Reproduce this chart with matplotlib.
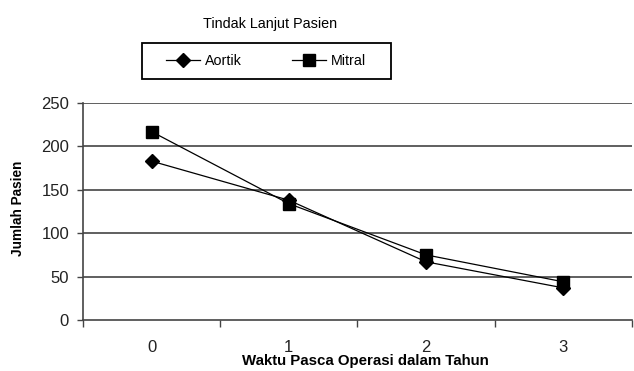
import numpy as np
import matplotlib
matplotlib.use("Agg")
import matplotlib.pyplot as plt
from matplotlib.patches import Rectangle

plt.rcParams['font.family'] = ['Liberation Sans', 'DejaVu Sans']

# follow-up counts per year after surgery
tahun = ['0', '1', '2', '3']
aortik = [183, 138, 67, 37]
mitral = [217, 134, 75, 44]
yticks = [0, 50, 100, 150, 200, 250]

W, H = 634, 371
fig = plt.figure(figsize=(W/100, H/100), dpi=100)
ax = fig.add_axes([83/W, 1 - 320/H, (632-83)/W, (320-103)/H])

x = np.arange(len(tahun)) + 0.5
ax.plot(x, aortik, color='black', lw=0.9, marker='D', ms=7.5, mfc='black', mec='black', label='Aortik')
ax.plot(x, mitral, color='black', lw=0.9, marker='s', ms=8.5, mfc='black', mec='black', label='Mitral')

ax.set_xlim(0, len(tahun))
ax.set_ylim(0, 250)
ax.set_yticks(yticks)
ax.set_yticklabels([str(v) for v in yticks], fontsize=12, color='#222222')
ax.set_xticks(np.arange(len(tahun) + 1))
ax.set_xticklabels([])
ax.set_xticks(x, minor=True)
ax.set_xticklabels(tahun, minor=True, fontsize=12, color='#222222')
ax.tick_params(axis='x', which='minor', length=0, pad=14.5)
ax.tick_params(axis='x', which='major', length=5, width=1, direction='out', color='#444444')
ax.tick_params(axis='y', length=4.5, width=1, direction='out', color='#444444', pad=5.5)

for v in yticks[1:]:
    ax.axhline(v, color='#444444', lw=1.2, zorder=0)

for s in ['top', 'right']:
    ax.spines[s].set_visible(False)
for s in ['left', 'bottom']:
    ax.spines[s].set_color('#444444')
    ax.spines[s].set_linewidth(1.2)

fig.text(270/W, 1 - 24/H, 'Tindak Lanjut Pasien', ha='center', va='center', fontsize=10.4)
ax.set_xlabel('Waktu Pasca Operasi dalam Tahun', fontweight='bold', fontsize=10.8, labelpad=0)
ax.xaxis.set_label_coords(0.514, -0.158)
ax.set_ylabel('Jumlah Pasien', fontweight='bold', fontsize=9.8)
ax.yaxis.set_label_coords(-0.105, 0.516)

# legend box
fig.patches.append(Rectangle((142/W, 1 - 79/H), 249/W, 36/H, transform=fig.transFigure,
                             fill=False, edgecolor='black', lw=1.3))
leg = fig.legend(loc='center', bbox_to_anchor=(266/W, 1 - 61/H), ncol=2, frameon=False,
                 fontsize=10.3, handlelength=2.4, handletextpad=0.35, columnspacing=3.5)

fig.savefig('out.png', dpi=100)
